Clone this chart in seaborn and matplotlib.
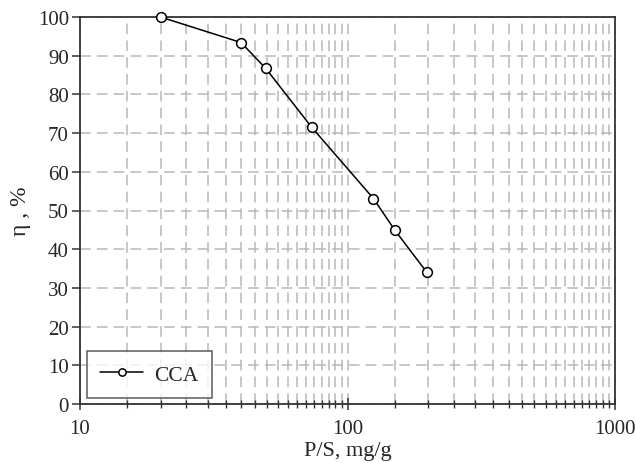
import numpy as np
import pandas as pd
import matplotlib
matplotlib.use("Agg")
import matplotlib.pyplot as plt
import matplotlib.ticker as mticker
import seaborn as sns

ps = [20, 40, 49.5, 73.5, 125, 150, 198]
eta = [100, 93.4, 86.7, 71.5, 53.1, 45.0, 34.0]
series = "CCA"
xlabel = "P/S, mg/g"
ylabel = "η , %"

sns.set_theme(style="white")
plt.rcParams["font.family"] = ["Liberation Serif", "DejaVu Serif"]

df = pd.DataFrame({"ps": ps, "eta": eta, "series": series})

fig = plt.figure(figsize=(6.36, 4.64), dpi=100)
ax = fig.add_axes([80/636, 1-405/464, (615-80)/636, (405-18)/464])

ax.set_xscale("log")
ax.set_xlim(10, 1000)
ax.set_ylim(0, 100)

minor_x = [v for v in np.arange(15, 100, 5)] + [v for v in np.arange(150, 1000, 50)]
ax.xaxis.set_major_locator(mticker.FixedLocator([10, 100, 1000]))
ax.xaxis.set_minor_locator(mticker.FixedLocator(minor_x))
ax.xaxis.set_major_formatter(mticker.FixedFormatter(["10", "100", "1000"]))
ax.xaxis.set_minor_formatter(mticker.NullFormatter())
ax.yaxis.set_major_locator(mticker.MultipleLocator(10))

gkw = dict(color="#b8b8b8", linestyle=(0, (7, 4)), linewidth=1.1)
ax.grid(True, which="major", axis="y", **gkw)
ax.grid(True, which="both", axis="x", **gkw)
ax.set_axisbelow(True)

sns.lineplot(data=df, x="ps", y="eta", hue="series", palette=["black"],
             marker="o", markersize=7, markerfacecolor="white",
             markeredgecolor="black", markeredgewidth=1.1, linewidth=1.1,
             ax=ax, zorder=5, clip_on=False)

for s in ax.spines.values():
    s.set_color("#333333")
    s.set_linewidth(1.3)

ax.tick_params(axis="y", which="major", direction="out", length=6, width=1.1,
               color="#333333", labelsize=15, pad=2)
ax.tick_params(axis="x", which="major", direction="inout", length=8, width=1.1,
               color="#333333", labelsize=15, pad=7)
ax.tick_params(axis="x", which="minor", direction="inout", length=6, width=1.0,
               color="#333333")
ax.tick_params(axis="x", which="both", bottom=True, top=False)
ax.tick_params(axis="y", which="both", left=True, right=False)

ax.set_xlabel(xlabel, fontsize=16, labelpad=2)
ax.set_ylabel(ylabel, fontsize=17, labelpad=5)

leg = ax.legend(loc="lower left", bbox_to_anchor=(0.013, 0.0155), fontsize=15.5,
                frameon=True, fancybox=False, edgecolor="#333333",
                handlelength=2.0, borderpad=0.62, markerscale=0.75,
                handletextpad=0.5, borderaxespad=0.0, title=None)
leg.get_frame().set_linewidth(1.1)

fig.savefig("out.png", dpi=100, facecolor="white")
